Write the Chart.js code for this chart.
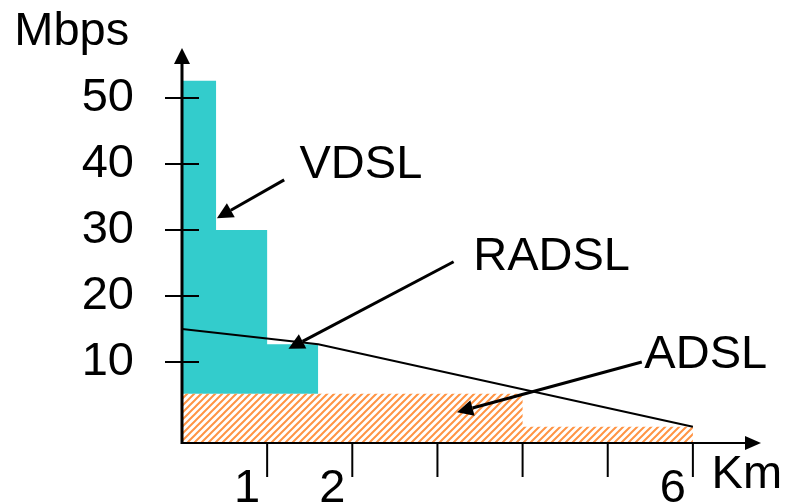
<!DOCTYPE html>
<html>
<head>
<meta charset="utf-8">
<script src="https://cdn.jsdelivr.net/npm/chart.js@4"></script>
<style>
  html, body { margin: 0; padding: 0; background: #fff; }
  #wrap { width: 786px; height: 504px; }
</style>
</head>
<body>
<div id="wrap"><canvas id="myChart"></canvas></div>
<script>
// distance in km, rate in Mbps
const VDSL_KM = [0, 0.4, 1.0, 1.6];
const VDSL_MBPS = [52.6, 30, 12.7, 12.7];
const ADSL_KM = [0, 4, 6];
const ADSL_MBPS = [5.2, 0.2, 0.2];
const RADSL_KM = [0, 1.6, 6];
const RADSL_MBPS = [15, 12.7, 0.2];

const X_TICKS = [1, 2, 3, 4, 5, 6];
const X_LABELS = ['1', '2', '', '', '', '6'];
const Y_TICKS = [10, 20, 30, 40, 50];
const Y_LABELS = ['10', '20', '30', '40', '50'];

// annotation text anchor + arrow, in km / Mbps
const NOTES = [
  { text: 'VDSL', at: [1.38, 37.9], from: [1.2, 37.6], to: [0.41, 31.8] },
  { text: 'RADSL', at: [3.42, 23.9], from: [3.19, 25.2], to: [1.25, 12.0] },
  { text: 'ADSL', at: [5.43, 9.1], from: [5.4, 10.0], to: [3.23, 2.4] }
];

const FAMILY = '"Liberation Sans", Arial, sans-serif';
const FONT = '47px ' + FAMILY;

function pts(xs, ys) {
  return xs.map((x, i) => ({ x: x, y: ys[i] }));
}

function hatch() {
  const c = document.createElement('canvas');
  c.width = 7; c.height = 7;
  const g = c.getContext('2d');
  g.strokeStyle = '#ff9444';
  g.lineWidth = 2;
  g.beginPath();
  g.moveTo(-1, 8); g.lineTo(8, -1);
  g.moveTo(-5, 5); g.lineTo(5, -5);
  g.moveTo(2, 12); g.lineTo(12, 2);
  g.stroke();
  return c.getContext('2d').createPattern(c, 'repeat');
}

function line(ctx, x1, y1, x2, y2) {
  ctx.beginPath(); ctx.moveTo(x1, y1); ctx.lineTo(x2, y2); ctx.stroke();
}

function arrow(ctx, fx, fy, tx, ty, len, half) {
  const a = Math.atan2(ty - fy, tx - fx);
  const bx = tx - len * Math.cos(a), by = ty - len * Math.sin(a);
  line(ctx, fx, fy, bx, by);
  ctx.beginPath();
  ctx.moveTo(tx, ty);
  ctx.lineTo(bx + half * Math.sin(a), by - half * Math.cos(a));
  ctx.lineTo(bx - half * Math.sin(a), by + half * Math.cos(a));
  ctx.closePath();
  ctx.fill();
}

const axesPlugin = {
  id: 'axes',
  afterDatasetsDraw(chart) {
    const ctx = chart.ctx;
    const x = chart.scales.x, y = chart.scales.y;
    const px = v => x.getPixelForValue(v);
    const py = v => y.getPixelForValue(v);
    const x0 = x.left, y0 = y.bottom;
    ctx.save();
    ctx.strokeStyle = '#000';
    ctx.fillStyle = '#000';

    ctx.lineWidth = 3;
    arrow(ctx, x0, y0 + 1, x0, y.top, 16, 8);
    ctx.lineWidth = 2;
    arrow(ctx, x0, y0, x.right, y0, 16, 7);

    Y_TICKS.forEach(v => line(ctx, x0 - 17, py(v), x0 + 17, py(v)));
    X_TICKS.forEach(v => line(ctx, px(v), y0, px(v), y0 + 34));

    ctx.font = FONT;
    ctx.textAlign = 'left';
    ctx.textBaseline = 'alphabetic';
    ctx.lineWidth = 3;
    NOTES.forEach(n => {
      ctx.fillText(n.text, px(n.at[0]), py(n.at[1]));
      arrow(ctx, px(n.from[0]), py(n.from[1]), px(n.to[0]), py(n.to[1]), 16, 8);
    });

    ctx.fillText('Mbps', px(-1.97), py(58.0));
    ctx.fillText('Km', px(6.22), py(-9.1));
    ctx.restore();
  }
};

const ctx = document.getElementById('myChart');

new Chart(ctx, {
  type: 'line',
  data: {
    datasets: [{
      label: 'RADSL',
      data: pts(RADSL_KM, RADSL_MBPS),
      borderColor: '#000',
      borderWidth: 2,
      fill: false
    }, {
      label: 'ADSL',
      data: pts(ADSL_KM, ADSL_MBPS),
      stepped: true,
      borderWidth: 0,
      borderColor: 'rgba(0,0,0,0)',
      backgroundColor: hatch(),
      fill: 'start'
    }, {
      label: 'VDSL',
      data: pts(VDSL_KM, VDSL_MBPS),
      stepped: true,
      borderWidth: 0,
      borderColor: 'rgba(0,0,0,0)',
      backgroundColor: '#33cccc',
      fill: { value: ADSL_MBPS[0] }
    }]
  },
  options: {
    responsive: true,
    maintainAspectRatio: false,
    animation: false,
    layout: { padding: { top: 48, right: 25, left: 0, bottom: 0 } },
    elements: { point: { radius: 0 }, line: { tension: 0 } },
    plugins: { legend: { display: false }, tooltip: { enabled: false } },
    scales: {
      x: {
        type: 'linear',
        min: 0,
        max: 6.8,
        afterBuildTicks: s => { s.ticks = X_TICKS.map(v => ({ value: v })); },
        afterFit: s => { s.height = 61; s.paddingLeft = 0; s.paddingRight = 0; },
        grid: { display: false, drawTicks: false },
        border: { display: false },
        ticks: {
          autoSkip: false,
          maxRotation: 0,
          padding: 18,
          labelOffset: -20,
          color: '#000',
          font: { family: FAMILY, size: 47 },
          callback: (v, i) => X_LABELS[i]
        }
      },
      y: {
        min: -2.27,
        max: 57.58,
        afterBuildTicks: s => { s.ticks = Y_TICKS.map(v => ({ value: v })); },
        afterFit: s => { s.width = 182; s.paddingTop = 0; s.paddingBottom = 0; },
        grid: { display: false, drawTicks: false },
        border: { display: false },
        ticks: {
          padding: 48,
          color: '#000',
          font: { family: FAMILY, size: 47 },
          callback: (v, i) => Y_LABELS[i]
        }
      }
    }
  },
  plugins: [axesPlugin]
});
</script>
</body>
</html>
